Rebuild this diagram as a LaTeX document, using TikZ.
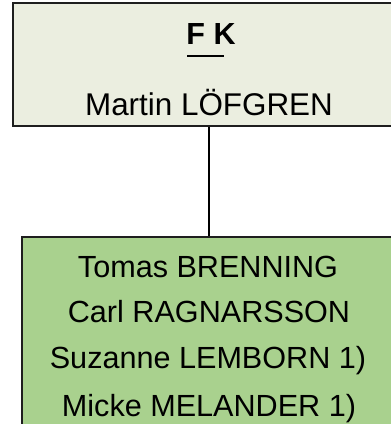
\documentclass[tikz,border=0pt]{standalone}
\usepackage{fontspec}
\setmainfont{Liberation Sans}
\definecolor{topfill}{RGB}{235,238,224}
\definecolor{botfill}{RGB}{169,209,142}
\definecolor{edge}{RGB}{30,30,30}
\begin{document}
\begin{tikzpicture}[x=1pt,y=-1pt,
  box/.style={draw=edge,line width=1.6pt,rectangle,inner sep=0pt},
  toptext/.style={anchor=base,inner sep=0pt,font=\fontsize{31.4}{36}\selectfont},
  bottext/.style={anchor=base,inner sep=0pt,font=\fontsize{30.6}{36}\selectfont},
  link/.style={draw=black,line width=1.4pt}]
\useasboundingbox (0,0) rectangle (391,424);
\clip (0,0) rectangle (391,424);
\node[box,fill=topfill,minimum width=392pt,minimum height=123pt] (top) at (209,64.5) {};
\node[box,fill=botfill,minimum width=374pt,minimum height=240pt] (bot) at (209,357) {};
\draw[link] (top.south) -- (bot.north);
\node[toptext,font=\fontsize{30.5}{36}\selectfont\bfseries] (fk) at (211,44) {F K};
\coordinate (ulA) at (187,56);
\coordinate (ulB) at (224,56);
\draw[line width=1.8pt] (ulA) -- (ulB);
\node[toptext] (martin) at (209,115) {Martin LÖFGREN};
\node[bottext] (l1) at (208,277) {Tomas BRENNING};
\node[bottext] (l2) at (209,322) {Carl RAGNARSSON};
\node[bottext] (l3) at (208,368) {Suzanne LEMBORN 1)};
\node[bottext] (l4) at (209,416) {Micke MELANDER 1)};
\end{tikzpicture}
\end{document}
